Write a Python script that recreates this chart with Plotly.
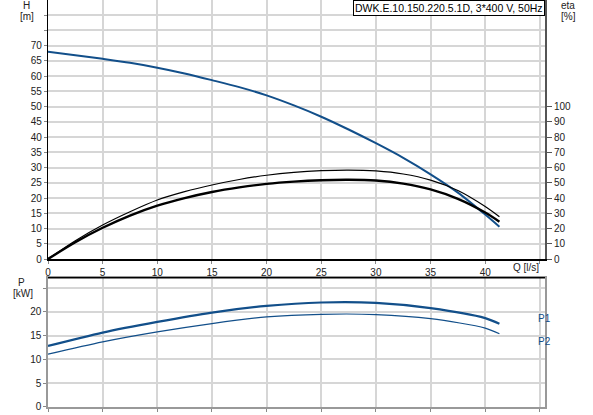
import plotly.graph_objects as go

# flow Q [l/s]
q_h = [0, 2.5, 5, 7.5, 10, 12.5, 15, 17.5, 20, 22.5, 25, 27.5, 30, 32.5, 35, 37.5, 40, 41.3]
head = [68, 66.9, 65.7, 64.4, 62.8, 60.9, 58.7, 56.4, 53.7, 50.4, 46.7, 42.5, 38.0, 33.2, 27.8, 21.8, 14.6, 10.6]

q_eta = [0, 2.5, 5, 7.5, 10, 12.5, 15, 17.5, 20, 22.5, 25, 27.5, 30, 32.5, 35, 37.5, 40, 41.3]
eta_upper = [0, 12, 22.3, 31, 38.7, 44.2, 48.6, 52.2, 55, 56.9, 58, 58.4, 57.8, 55.8, 51.8, 45, 34.5, 27.8]
eta_lower = [0, 11, 20.5, 28.5, 35, 40, 44, 47, 49.3, 50.8, 51.7, 52.0, 51.5, 49.5, 45.7, 39.5, 30.5, 24.5]

q_p = [0, 5, 10, 15, 20, 25, 30, 35, 40, 41.3]
p1 = [12.84, 15.66, 17.9, 19.87, 21.26, 21.98, 21.9, 20.8, 18.7, 17.5]
p2 = [11.1, 13.7, 15.8, 17.55, 18.95, 19.5, 19.45, 18.6, 16.6, 15.4]

x_ticks = list(range(0, 50, 5))
x_text = [str(v) for v in range(0, 45, 5)] + [""]
h_ticks = list(range(0, 85, 5))
h_text = [str(v) for v in range(0, 75, 5)] + ["", ""]
eta_ticks = list(range(0, 110, 10))
p_ticks = [0, 5, 10, 15, 20, 25]
p_text = ["0", "5", "10", "15", "20", ""]

blue = "#124f8a"
grid = "#d6d6d6"
font = dict(family="Liberation Sans, Arial", size=10, color="#222")
spl = dict(shape="spline", smoothing=0.8)

fig = go.Figure()
fig.add_trace(go.Scatter(x=q_h, y=head, mode="lines", line=dict(color=blue, width=2, **spl),
                         xaxis="x", yaxis="y"))
fig.add_trace(go.Scatter(x=q_eta, y=eta_upper, mode="lines", line=dict(color="black", width=1.2, **spl),
                         xaxis="x", yaxis="y2"))
fig.add_trace(go.Scatter(x=q_eta, y=eta_lower, mode="lines", line=dict(color="black", width=2.4, **spl),
                         xaxis="x", yaxis="y2"))
fig.add_trace(go.Scatter(x=q_p, y=p1, mode="lines", line=dict(color=blue, width=2.2, **spl),
                         xaxis="x2", yaxis="y3"))
fig.add_trace(go.Scatter(x=q_p, y=p2, mode="lines", line=dict(color=blue, width=1.2, **spl),
                         xaxis="x2", yaxis="y3"))

xcommon = dict(range=[0, 45.47], tickvals=x_ticks, showgrid=True, gridcolor=grid, gridwidth=1.5,
               zeroline=False, ticks="outside", ticklen=3, tickcolor="#888", tickfont=font)

fig.update_layout(
    width=593, height=415,
    margin=dict(l=48, r=48, t=0, b=8),
    plot_bgcolor="white", paper_bgcolor="white",
    showlegend=False,
    xaxis=dict(xcommon, ticktext=x_text, anchor="y", showline=True, linecolor="black", linewidth=1.5),
    yaxis=dict(domain=[0.3636, 1], range=[0, 85], tickvals=h_ticks, ticktext=h_text, showgrid=True,
               gridcolor=grid, gridwidth=1.5, zeroline=False, showline=True, linecolor="black", linewidth=1.2,
               ticks="outside", ticklen=3, tickcolor="#888", tickfont=font),
    yaxis2=dict(overlaying="y", side="right", range=[0, 170], tickvals=eta_ticks, showgrid=False,
                zeroline=False, showline=True, linecolor="#555", linewidth=2, ticks="outside", ticklen=5,
                tickcolor="#555", tickfont=font),
    xaxis2=dict(xcommon, ticktext=[""] * len(x_ticks), anchor="y3", showline=True, linecolor="#999",
                linewidth=1.5, mirror=True),
    yaxis3=dict(domain=[0, 0.3177], range=[0, 27.2], tickvals=p_ticks, ticktext=p_text, showgrid=True,
                gridcolor=grid, gridwidth=1.5, zeroline=False, showline=True, linecolor="#999", linewidth=1.5,
                mirror=True, ticks="outside", ticklen=3, tickcolor="#888", tickfont=font),
)

# top border of the power plot
fig.add_shape(type="line", xref="x2 domain", yref="y3 domain", x0=0, x1=1, y0=1, y1=1,
              line=dict(color="black", width=1.5))

ann = [
    ("H", 26.5, 5), ("[m]", 26.5, 17),
    ("eta", 568, 5), ("[%]", 568, 17),
    ("P", 21, 282), ("[kW]", 23, 293),
]
for txt, px_, py_ in ann:
    fig.add_annotation(text=txt, xref="paper", yref="paper", x=(px_ - 48) / 497, y=(407 - py_) / 407,
                       showarrow=False, font=font, xanchor="center", yanchor="middle")

fig.add_annotation(text="Q [l/s]", xref="paper", yref="paper", x=(541 - 48) / 497, y=(407 - 267) / 407,
                   showarrow=False, font=font, xanchor="right", yanchor="middle")
fig.add_annotation(text="P1", xref="paper", yref="paper", x=(536 - 48) / 497, y=(407 - 318) / 407,
                   showarrow=False, font=dict(font, color=blue), xanchor="left", yanchor="middle")
fig.add_annotation(text="P2", xref="paper", yref="paper", x=(536 - 48) / 497, y=(407 - 341) / 407,
                   showarrow=False, font=dict(font, color=blue), xanchor="left", yanchor="middle")

fig.add_annotation(text="DWK.E.10.150.220.5.1D, 3*400 V, 50Hz", xref="paper", yref="paper",
                   x=1, y=1, xanchor="right", yanchor="top", showarrow=False,
                   font=dict(family="Liberation Sans, Arial", size=10.5, color="black"),
                   bgcolor="white", bordercolor="black", borderwidth=1, borderpad=1)

# the page's default 8px body margin would shift the chart
fig.write_html("out.html", config={"displayModeBar": False},
               post_script="document.body.style.margin='0';")
